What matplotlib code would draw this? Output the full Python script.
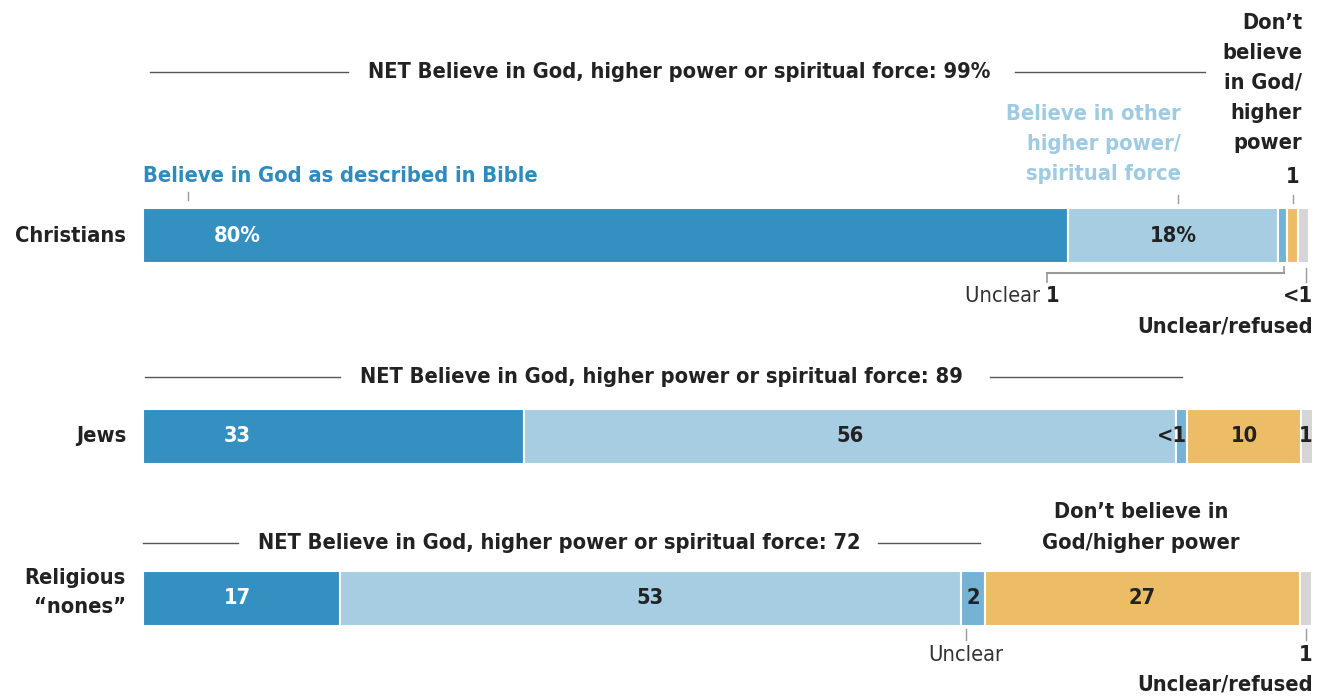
import numpy as np
import matplotlib.pyplot as plt

# data
groups = ['Christians', 'Jews', 'Religious\n\u201cnones\u201d']
bible = [80.0, 33.0, 17.0]
other_power = [18.2, 56.4, 53.8]
unclear = [0.8, 0.9, 2.0]
dont_believe = [0.9, 9.9, 27.3]
refused = [1.0, 1.0, 1.0]
bible_lbl = ['80%', '33', '17']
other_lbl = ['18%', '56', '53']
unclear_lbl = ['', '<1', '2']
dont_lbl = ['', '10', '27']
refused_lbl = ['', '1', '']
net_lbl = ['99%', '89', '72']

plt.rcParams['font.family'] = ['DejaVu Sans']
plt.rcParams['font.stretch'] = 'condensed'

c_bible = '#3490c0'
c_other = '#a6cde2'
c_unclear = '#74b2d6'
c_dont = '#edbc66'
c_ref = '#d5d5d5'
dark = '#222222'

W, H = 1317, 696
fig = plt.figure(figsize=(W / 100, H / 100), dpi=100)
ax = fig.add_axes([0, 0, 1, 1])
px = 11.56  # pixels per percentage point
x0 = 143
ax.set_xlim(-x0 / px, (W - x0) / px)
ax.set_ylim(H, 0)
ax.axis('off')

def X(p):
    return (p - x0) / px

ycent = [235.5, 436.5, 598.5]
bh = 55
fs = 15.7

series = [bible, other_power, unclear, dont_believe, refused]
cols = [c_bible, c_other, c_unclear, c_dont, c_ref]
for i in range(3):
    left = 0
    for s, c in zip(series, cols):
        ax.barh(ycent[i], s[i], left=left, height=bh, color=c,
                edgecolor='white', linewidth=1.5)
        left += s[i]

# labels inside bars
for i in range(3):
    y = ycent[i]
    ax.text(X(237), y, bible_lbl[i], color='white', fontsize=fs, fontweight='bold',
            ha='center', va='center')
    ax.text(bible[i] + other_power[i] / 2, y, other_lbl[i], color=dark, fontsize=fs,
            fontweight='bold', ha='center', va='center')
    b = bible[i] + other_power[i]
    if dont_lbl[i]:
        ax.text(b + unclear[i] + dont_believe[i] / 2, y, dont_lbl[i], color=dark,
                fontsize=fs, fontweight='bold', ha='center', va='center')
    if refused_lbl[i]:
        ax.text(X(1306), y, refused_lbl[i], color=dark, fontsize=fs,
                fontweight='bold', ha='center', va='center')
ax.text(X(1187), ycent[1], unclear_lbl[1], color=dark, fontsize=fs, fontweight='bold',
        ha='right', va='center')
ax.text(bible[2] + other_power[2] + unclear[2] / 2, ycent[2], unclear_lbl[2], color=dark,
        fontsize=fs, fontweight='bold', ha='center', va='center')

# row labels
ax.text(X(126), ycent[0], groups[0], fontsize=fs, fontweight='bold', ha='right',
        va='center', color=dark)
ax.text(X(126), ycent[1], groups[1], fontsize=fs, fontweight='bold', ha='right',
        va='center', color=dark)
ax.text(X(126), ycent[2] - 6, groups[2], fontsize=fs, fontweight='bold', ha='right',
        va='center', color=dark, linespacing=1.55)

# NET lines
net_pos = [(72, 150, 348, 368, 1015, 1205), (377, 145, 340, 360, 990, 1182),
           (543, 143, 238, 258, 878, 980)]
for (y, l1, l2, tx, r1, r2), v in zip(net_pos, net_lbl):
    ax.plot([X(l1), X(l2)], [y, y], color='#555555', lw=1)
    ax.plot([X(r1), X(r2)], [y, y], color='#555555', lw=1)
    ax.text(X(tx), y, 'NET Believe in God, higher power or spiritual force: ' + v,
            fontsize=fs, fontweight='bold', ha='left', va='center', color=dark)

# Christians annotations
ax.text(X(143), 176, 'Believe in God as described in Bible', color='#2f8bbd',
        fontsize=fs, fontweight='bold', ha='left', va='center')
ax.plot([X(188), X(188)], [192, 200], color='#999999', lw=1)
ax.text(X(1181), 144, 'Believe in other\nhigher power/\nspiritual force', color='#9fcbe2',
        fontsize=fs, fontweight='bold', ha='right', va='center', linespacing=1.62)
ax.plot([X(1178), X(1178)], [195, 203], color='#999999', lw=1)
ax.text(X(1302), 83, "Don\u2019t\nbelieve\nin God/\nhigher\npower", color=dark,
        fontsize=fs, fontweight='bold', ha='right', va='center', linespacing=1.64)
ax.text(X(1293), 177, '1', color=dark, fontsize=fs, fontweight='bold', ha='center',
        va='center')
ax.plot([X(1293), X(1293)], [195, 203], color='#999999', lw=1)

# bracket for unclear
ax.plot([X(1047), X(1284)], [273, 273], color='#999999', lw=1.5)
ax.plot([X(1047), X(1047)], [273, 282], color='#999999', lw=1.2)
ax.plot([X(1284), X(1284)], [267, 273], color='#999999', lw=1.2)
ax.text(X(1046), 296, 'Unclear ', color='#333333', fontsize=fs, ha='right', va='center')
ax.text(X(1046), 296, '1', color=dark, fontsize=fs, fontweight='bold', ha='left',
        va='center')
ax.plot([X(1306), X(1306)], [268, 282], color='#999999', lw=1)
ax.text(X(1313), 296, '<1', color=dark, fontsize=fs, fontweight='bold', ha='right',
        va='center')
ax.text(X(1313), 327, 'Unclear/refused', color=dark, fontsize=fs, fontweight='bold',
        ha='right', va='center')

# nones annotations
ax.text(X(1141), 527.5, "Don\u2019t believe in\nGod/higher power", color=dark, fontsize=fs,
        fontweight='bold', ha='center', va='center', linespacing=1.65)
ax.plot([X(966), X(966)], [629, 640], color='#999999', lw=1)
ax.text(X(966), 655, 'Unclear', color='#333333', fontsize=fs, ha='center', va='center')
ax.plot([X(1306), X(1306)], [629, 640], color='#999999', lw=1)
ax.text(X(1306), 655, '1', color=dark, fontsize=fs, fontweight='bold', ha='center',
        va='center')
ax.text(X(1313), 684, 'Unclear/refused', color=dark, fontsize=fs, fontweight='bold',
        ha='right', va='center')

fig.savefig('out.png', dpi=100, facecolor='white')
